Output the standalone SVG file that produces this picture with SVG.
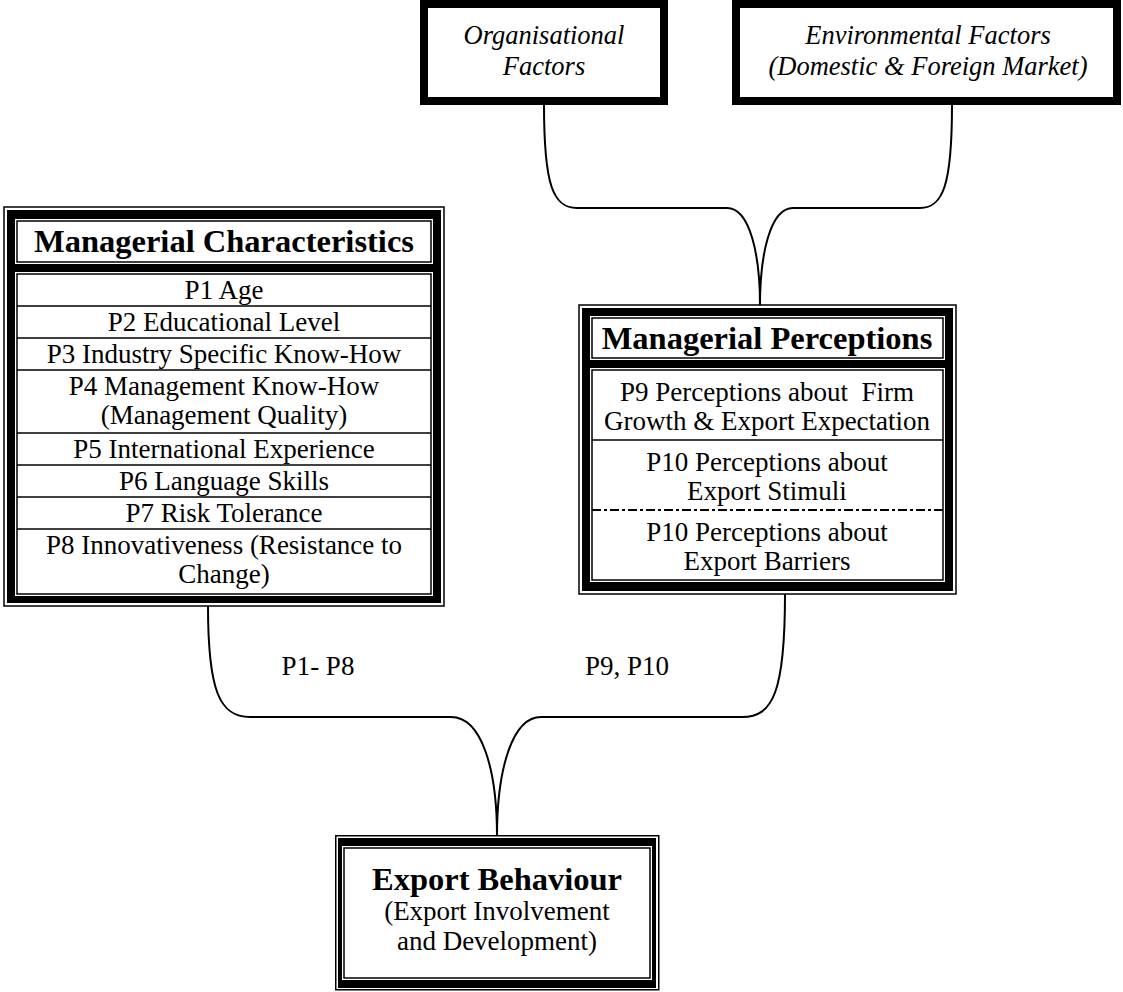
<svg xmlns="http://www.w3.org/2000/svg" width="1123" height="992" viewBox="0 0 1123 992">
<style>
text{font-family:"Liberation Serif","Times New Roman",serif;fill:#000;text-anchor:middle}
.b{font-size:27px}
.h{font-size:32.5px;font-weight:bold}
.i{font-size:26.5px;font-style:italic}
.thick{fill:#fff;stroke:#000;stroke-width:8}
.outer{fill:none;stroke:#000;stroke-width:1.5}
.band{fill:#000}
.halo{fill:#fff}
.inner{fill:#fff;stroke:#000;stroke-width:1.5}
.sep{stroke:#000;stroke-width:1.5}
.conn{fill:none;stroke:#000;stroke-width:2}
</style>
<rect width="1123" height="992" fill="#fff"/>
<g id="connectors">
<path class="conn" d="M544,105 C544,185 553,208 577,208 L727,208 C750,208 760,255 760,305"/>
<path class="conn" d="M952,105 C952,185 943,208 920,208 L793,208 C770,208 760,255 760,305"/>
<path class="conn" d="M208,606 C208,692 220,717 250,717 L451,717 C482,717 497,770 497,836"/>
<path class="conn" d="M785,594 C785,692 773,717 742,717 L541,717 C512,717 497,770 497,836"/>
<text class="b" x="318" y="675">P1- P8</text>
<text class="b" x="627" y="675">P9, P10</text>
</g>
<g id="organisational">
<rect class="thick" x="424" y="4" width="240" height="97"/>
<text class="i" x="544" y="44">Organisational</text>
<text class="i" x="544" y="75">Factors</text>
</g>
<g id="environmental">
<rect class="thick" x="736" y="4" width="381" height="97"/>
<text class="i" x="928" y="44">Environmental Factors</text>
<text class="i" x="928" y="75">(Domestic &amp; Foreign Market)</text>
</g>
<g id="characteristics">
<rect class="outer" x="4" y="207" width="440" height="399"/>
<rect class="band" x="7" y="210" width="434" height="393"/>
<rect class="halo" x="15" y="219" width="418" height="45"/>
<rect class="inner" x="17" y="221" width="414" height="41"/>
<rect class="halo" x="15" y="272" width="418" height="324"/>
<rect class="inner" x="17" y="274" width="414" height="320"/>
<line class="sep" x1="17" y1="306" x2="431" y2="306"/>
<line class="sep" x1="17" y1="338" x2="431" y2="338"/>
<line class="sep" x1="17" y1="370" x2="431" y2="370"/>
<line class="sep" x1="17" y1="433" x2="431" y2="433"/>
<line class="sep" x1="17" y1="465" x2="431" y2="465"/>
<line class="sep" x1="17" y1="497" x2="431" y2="497"/>
<line class="sep" x1="17" y1="529" x2="431" y2="529"/>
<text class="h" x="224" y="252">Managerial Characteristics</text>
<text class="b" x="224" y="299">P1 Age</text>
<text class="b" x="224" y="331">P2 Educational Level</text>
<text class="b" x="224" y="363">P3 Industry Specific Know-How</text>
<text class="b" x="224" y="395">P4 Management Know-How</text>
<text class="b" x="224" y="424">(Management Quality)</text>
<text class="b" x="224" y="458">P5 International Experience</text>
<text class="b" x="224" y="490">P6 Language Skills</text>
<text class="b" x="224" y="522">P7 Risk Tolerance</text>
<text class="b" x="224" y="554">P8 Innovativeness (Resistance to</text>
<text class="b" x="224" y="583">Change)</text>
</g>
<g id="perceptions">
<rect class="outer" x="579" y="305" width="377" height="289"/>
<rect class="band" x="582" y="308" width="371" height="283"/>
<rect class="halo" x="590" y="316" width="355" height="44"/>
<rect class="inner" x="592" y="318" width="351" height="40"/>
<rect class="halo" x="590" y="368" width="355" height="214"/>
<rect class="inner" x="592" y="370" width="351" height="210"/>
<line class="sep" x1="592" y1="440" x2="943" y2="440"/>
<line x1="592" y1="510" x2="943" y2="510" stroke="#000" stroke-width="2" stroke-dasharray="9 3 3 3"/>
<text class="h" x="767" y="349">Managerial Perceptions</text>
<text class="b" x="767" y="401" xml:space="preserve">P9 Perceptions about  Firm</text>
<text class="b" x="767" y="430">Growth &amp; Export Expectation</text>
<text class="b" x="767" y="471">P10 Perceptions about</text>
<text class="b" x="767" y="500">Export Stimuli</text>
<text class="b" x="767" y="541">P10 Perceptions about</text>
<text class="b" x="767" y="570">Export Barriers</text>
</g>
<g id="export">
<rect class="outer" x="335.75" y="835.75" width="323" height="154"/>
<rect class="band" x="338" y="838" width="318" height="150"/>
<rect class="halo" x="342" y="846" width="310" height="134"/>
<rect class="inner" x="344" y="848" width="306" height="130"/>
<text class="h" x="497" y="890">Export Behaviour</text>
<text class="b" x="497" y="920">(Export Involvement</text>
<text class="b" x="497" y="950">and Development)</text>
</g>
</svg>
